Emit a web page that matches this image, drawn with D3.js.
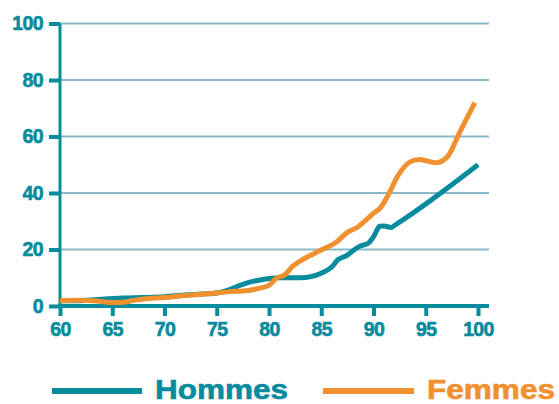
<!DOCTYPE html>
<html>
<head>
<meta charset="utf-8">
<script src="https://cdn.jsdelivr.net/npm/d3@7"></script>
<style>
  body { margin: 0; background: #fff; }
  svg text { font-family: "Liberation Sans", Arial, sans-serif; font-weight: bold; }
</style>
</head>
<body>
<div id="chart"></div>
<script>
// values (age, %)
var hommesAge = [60, 62, 64, 66, 68, 70, 72, 74, 75, 76, 77, 78, 79, 80, 81, 82, 83, 84, 85, 86, 86.6, 87.5, 88, 88.7, 89.5, 90, 90.6, 91, 91.7, 92, 100];
var hommesVal = [1.9, 1.9, 2.4, 2.8, 3, 3.3, 3.9, 4.3, 4.6, 5.5, 7, 8.3, 9.1, 9.7, 10, 10, 10, 10.4, 11.6, 13.8, 16.4, 18, 19.5, 21.2, 22.2, 24.5, 28.2, 28.3, 27.8, 28.5, 50];

var femmesAge = [60, 62, 63.5, 65, 66, 67, 68, 70, 72, 74, 75, 76, 78, 79, 80, 80.7, 81.5, 82.3, 83.3, 85, 86.4, 87.6, 88.4, 89.3, 90, 90.6, 91.5, 92.2, 93.5, 94.4, 96, 97.1, 98.2, 99.7];
var femmesVal = [1.9, 2, 1.8, 1.2, 1.3, 2, 2.5, 3, 3.7, 4.3, 4.6, 5, 5.5, 6.2, 7.3, 9.8, 11, 14.2, 16.6, 19.8, 22.5, 26.3, 27.7, 30.5, 32.8, 34.5, 39.9, 45.2, 51, 51.9, 50.7, 52.9, 61.1, 72];

var xTicks = [60, 65, 70, 75, 80, 85, 90, 95, 100];
var yTicks = [0, 20, 40, 60, 80, 100];
var seriesNames = ['Hommes', 'Femmes'];

var teal = '#078b9d';
var orange = '#f0902f';
var gridColor = '#8ab9c7';

var svg = d3.select('#chart').append('svg')
    .attr('width', 559)
    .attr('height', 404);

var x = d3.scaleLinear().domain([60, 100]).range([60, 478]);
var y = d3.scaleLinear().domain([0, 100]).range([306, 23.5]);

// horizontal grid lines
svg.append('g')
    .selectAll('line')
    .data(yTicks.filter(d => d > 0))
    .enter()
    .append('line')
    .attr('x1', 60)
    .attr('x2', 489)
    .attr('y1', d => y(d))
    .attr('y2', d => y(d))
    .attr('stroke', gridColor)
    .attr('stroke-width', 2);

// bold tick labels, a bit heavier than plain bold
function styleLabels(sel) {
    sel.attr('fill', teal)
        .attr('stroke', teal)
        .attr('stroke-width', 0.6)
        .attr('font-size', 19.5)
        .attr('letter-spacing', -0.6)
        .attr('font-family', '"Liberation Sans", Arial, sans-serif');
}

// y axis
var yAxis = svg.append('g')
    .attr('transform', 'translate(60,0)')
    .call(d3.axisLeft(y).tickValues(yTicks).tickSize(11).tickPadding(6));
yAxis.select('.domain').remove();
yAxis.selectAll('.tick line').attr('stroke', teal).attr('stroke-width', 4);
styleLabels(yAxis.selectAll('.tick text'));
svg.append('line')
    .attr('x1', 60).attr('x2', 60)
    .attr('y1', y(0)).attr('y2', y(100))
    .attr('stroke', teal).attr('stroke-width', 3);

// x axis
var xAxis = svg.append('g')
    .attr('transform', `translate(0,${y(0)})`)
    .call(d3.axisBottom(x).tickValues(xTicks).tickSize(10).tickPadding(6));
xAxis.select('.domain').remove();
xAxis.selectAll('.tick line').attr('stroke', teal).attr('stroke-width', 4);
styleLabels(xAxis.selectAll('.tick text'));
svg.append('line')
    .attr('x1', 58).attr('x2', 489)
    .attr('y1', y(0)).attr('y2', y(0))
    .attr('stroke', teal).attr('stroke-width', 4);

// the two curves
var line = d3.line()
    .x(d => x(d[0]))
    .y(d => y(d[1]))
    .curve(d3.curveMonotoneX);

var hommes = hommesAge.map((a, i) => [a, hommesVal[i]]);
var femmes = femmesAge.map((a, i) => [a, femmesVal[i]]);

svg.append('path')
    .datum(hommes)
    .attr('d', line)
    .attr('fill', 'none')
    .attr('stroke', teal)
    .attr('stroke-width', 5);

svg.append('path')
    .datum(femmes)
    .attr('d', line)
    .attr('fill', 'none')
    .attr('stroke', orange)
    .attr('stroke-width', 5);

// legend
var legend = [
    { name: seriesNames[0], color: teal, x0: 52, x1: 142, tx: 155, tw: 133 },
    { name: seriesNames[1], color: orange, x0: 323, x1: 414, tx: 427, tw: 128 }
];

legend.forEach(l => {
    svg.append('line')
        .attr('x1', l.x0).attr('x2', l.x1)
        .attr('y1', 391).attr('y2', 391)
        .attr('stroke', l.color)
        .attr('stroke-width', 6);
    svg.append('text')
        .attr('x', l.tx)
        .attr('y', 399)
        .attr('font-size', 27)
        .attr('textLength', l.tw)
        .attr('lengthAdjust', 'spacingAndGlyphs')
        .attr('fill', l.color)
        .attr('stroke', l.color)
        .attr('stroke-width', 0.6)
        .text(l.name);
});
</script>
</body>
</html>
